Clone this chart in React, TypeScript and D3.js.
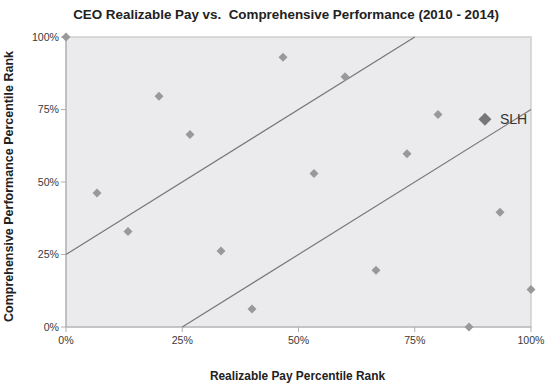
import React from "react";
import * as d3 from "d3";

const payRank = [0, 0.0667, 0.1333, 0.2, 0.2667, 0.3333, 0.4, 0.4667, 0.5333, 0.6, 0.6667, 0.7333, 0.8, 0.8667, 0.9333, 1.0];
const perfRank = [1.0, 0.462, 0.329, 0.796, 0.664, 0.262, 0.062, 0.93, 0.529, 0.863, 0.196, 0.597, 0.733, 0.0, 0.396, 0.129];
const slh = { label: "SLH", pay: 0.901, perf: 0.716 };
const upperBand = [[0, 0.25], [0.75, 1.0]];
const lowerBand = [[0.25, 0], [1.0, 0.75]];
const tickValues = [0, 0.25, 0.5, 0.75, 1.0];
const title = "CEO Realizable Pay vs.  Comprehensive Performance (2010 - 2014)";
const xTitle = "Realizable Pay Percentile Rank";
const yTitle = "Comprehensive Performance Percentile Rank";

export default function App() {
  const W = 546, H = 384;
  const left = 66, right = 531, top = 37, bottom = 327;
  const x = d3.scaleLinear().domain([0, 1]).range([left, right]);
  const y = d3.scaleLinear().domain([0, 1]).range([bottom, top]);
  const fmt = d3.format(".0%");
  const line = d3.line<number[]>().x(d => x(d[0])).y(d => y(d[1]));
  const diamond = (cx: number, cy: number, r: number) =>
    `M${cx},${cy - r}L${cx + r},${cy}L${cx},${cy + r}L${cx - r},${cy}Z`;
  const font = "'Liberation Sans', Arial, Helvetica, sans-serif";
  return (
    <svg width={W} height={H} style={{ position: "absolute", left: 0, top: 0 }} fontFamily={font}>
      <rect x={0} y={0} width={W} height={H} fill="#fff" />
      <text x={286} y={19} textAnchor="middle" fontWeight="bold" fontSize={13.4} fill="#222" style={{ whiteSpace: "pre" }}>{title}</text>
      <rect x={left} y={top} width={right - left} height={bottom - top} fill="#ebebed" stroke="#cfcfcf" strokeWidth={1.5} />
      {/* axes */}
      <line x1={left} x2={left} y1={top} y2={bottom} stroke="#b0b0b0" strokeWidth={1.2} />
      <line x1={left} x2={right} y1={bottom} y2={bottom} stroke="#b0b0b0" strokeWidth={1.2} />
      {tickValues.map(t => (
        <g key={"y" + t}>
          <line x1={left - 5} x2={left} y1={y(t)} y2={y(t)} stroke="#b0b0b0" />
          <text x={left - 7} y={y(t) + 3.7} textAnchor="end" fontSize={10.6} fill="#3a3a3a">{fmt(t)}</text>
        </g>
      ))}
      {tickValues.map(t => (
        <g key={"x" + t}>
          <line x1={x(t)} x2={x(t)} y1={bottom} y2={bottom + 5} stroke="#b0b0b0" />
          <text x={x(t)} y={bottom + 17} textAnchor="middle" fontSize={10.6} fill="#3a3a3a">{fmt(t)}</text>
        </g>
      ))}
      <path d={line(upperBand as number[][]) || ""} stroke="#777" strokeWidth={1.2} fill="none" />
      <path d={line(lowerBand as number[][]) || ""} stroke="#777" strokeWidth={1.2} fill="none" />
      {payRank.map((p, i) => (
        <path key={i} d={diamond(x(p), y(perfRank[i]), 4.5)} fill="#999" />
      ))}
      <path d={diamond(x(slh.pay), y(slh.perf), 6.5)} fill="#777" />
      <text x={x(slh.pay) + 15} y={y(slh.perf) + 5} fontSize={14} fill="#333">{slh.label}</text>
      <text x={297.5} y={380} textAnchor="middle" fontWeight="bold" fontSize={11.9} fill="#222">{xTitle}</text>
      <text transform={`translate(13,186.5) rotate(-90)`} textAnchor="middle" fontWeight="bold" fontSize={12.5} fill="#222">{yTitle}</text>
    </svg>
  );
}
